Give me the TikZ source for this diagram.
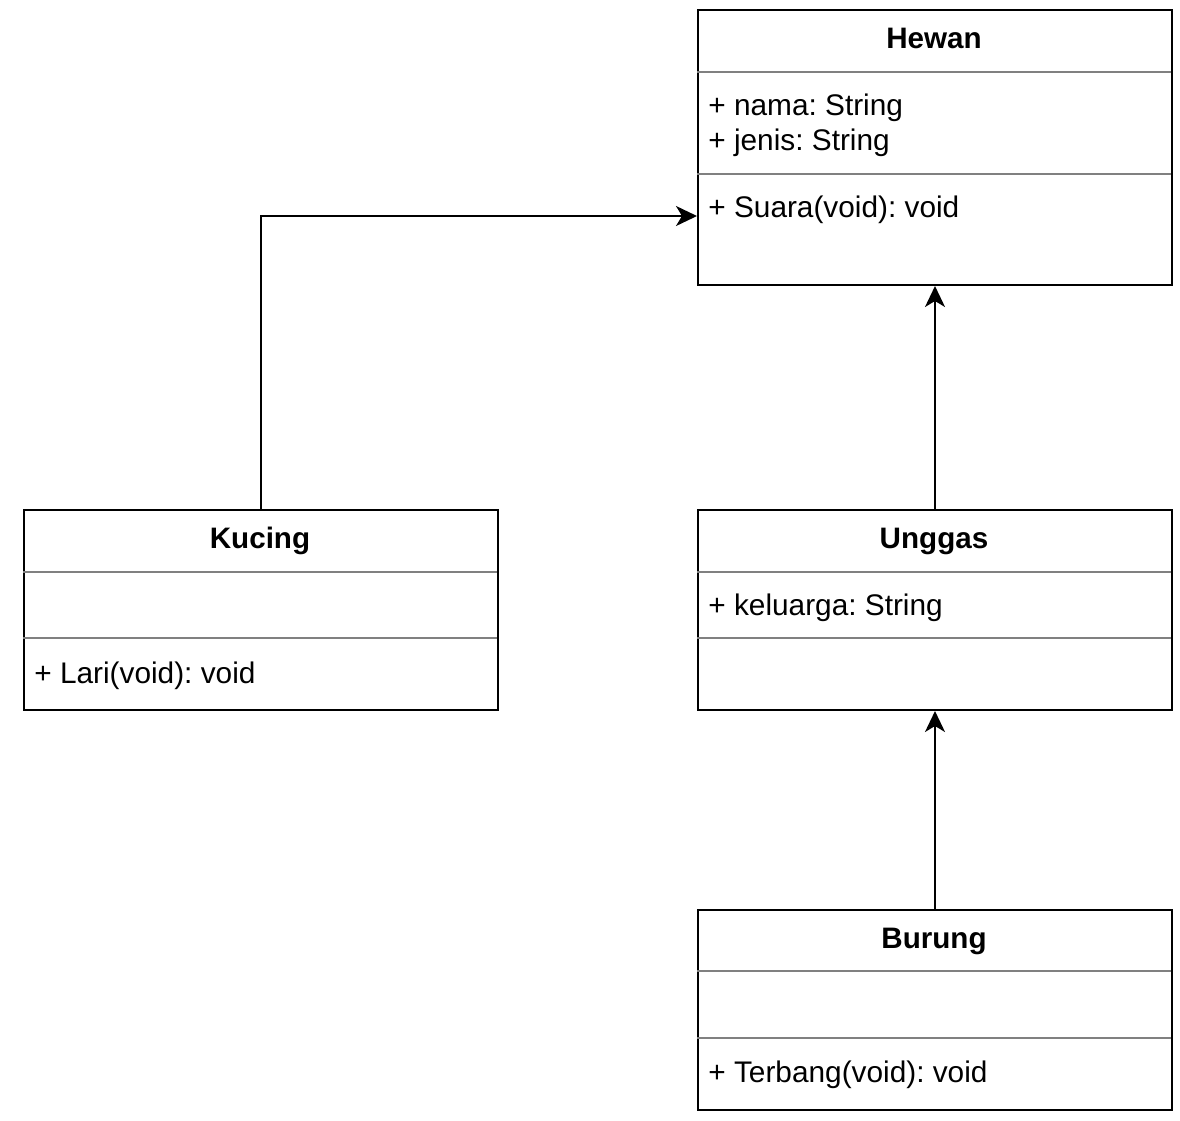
\documentclass[tikz,border=0pt]{standalone}
\usepackage{fontspec}
\setmainfont{Liberation Sans}
\usetikzlibrary{arrows.meta}
\frenchspacing
\begin{document}
\begin{tikzpicture}
    [%%%%%%%%%%%%%%%%%%%%%%%%%%%%%%
        x=0.5pt, y=-0.5pt,
        classbox/.style={rectangle,draw=black,line width=1pt, minimum width=237pt, anchor=north west, inner sep=0pt},
        title/.style={font=\fontsize{14.8}{17}\selectfont\bfseries, anchor=base, inner sep=0pt},
        member/.style={font=\fontsize{14.9}{17}\selectfont, anchor=base west, inner sep=0pt},
        divider/.style={draw=gray, line width=0.75pt},
        inherit/.style={draw=black, line width=1pt, -{Stealth[length=10.5pt, width=10pt, inset=3pt]}},
    ]%%%%%%%%%%%%%%%%%%%%%%%%%%%%%%
\useasboundingbox (0,0) rectangle (1180,1121);

\node[classbox, minimum height=137.5pt] (hewan) at (697,9) {};
\node[title] (hewantitle) at (934,48) {Hewan};
\draw[divider] (697,72) -- (1171,72);
\node[member] (hewannama) at (708,115) {+ nama: String};
\node[member] (hewanjenis) at (708,150) {+ jenis: String};
\draw[divider] (697,174) -- (1171,174);
\node[member] (hewansuara) at (708,217) {+ Suara(void): void};

\node[classbox, minimum height=100pt] (kucing) at (23,509) {};
\node[title] (kucingtitle) at (260,548) {Kucing};
\draw[divider] (23,572) -- (497,572);
\draw[divider] (23,638) -- (497,638);
\node[member] (kucinglari) at (34,683) {+ Lari(void): void};

\node[classbox, minimum height=100pt] (unggas) at (697,509) {};
\node[title] (unggastitle) at (934,548) {Unggas};
\draw[divider] (697,572) -- (1171,572);
\node[member] (unggaskeluarga) at (708,615) {+ keluarga: String};
\draw[divider] (697,638) -- (1171,638);

\node[classbox, minimum height=100pt] (burung) at (697,909) {};
\node[title] (burungtitle) at (934,948) {Burung};
\draw[divider] (697,971) -- (1171,971);
\draw[divider] (697,1038) -- (1171,1038);
\node[member] (burungterbang) at (708,1082) {+ Terbang(void): void};

\coordinate (hewanport) at (697,216);
\draw[inherit] (kucing.north) |- (hewanport);
\draw[inherit] (unggas.north) -- (hewan.south);
\draw[inherit] (burung.north) -- (unggas.south);

\end{tikzpicture}
\end{document}
